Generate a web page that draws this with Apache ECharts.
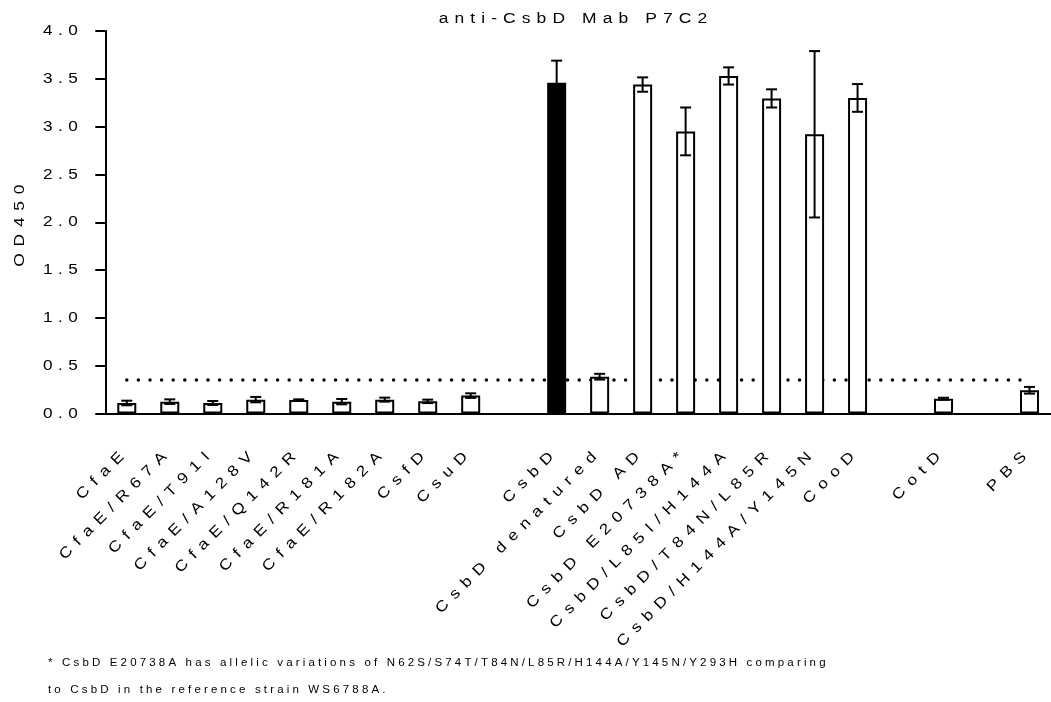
<!DOCTYPE html>
<html>
<head>
<meta charset="utf-8">
<script src="https://cdn.jsdelivr.net/npm/echarts@6/dist/echarts.min.js"></script>
<style>
html,body{margin:0;padding:0;background:#fff;}
#chart{width:1051px;height:702px;}
</style>
</head>
<body>
<div id="chart"></div>
<script>
// ---- data ----
const chartTitle = 'anti-CsbD Mab P7C2';
const yAxisName = 'OD450';
const categories = ['CfaE','CfaE/R67A','CfaE/T91I','CfaE/A128V','CfaE/Q142R','CfaE/R181A','CfaE/R182A','CsfD','CsuD','',
  'CsbD','CsbD denatured','CsbD AD','CsbD E20738A*','CsbD/L85I/H144A','CsbD/T84N/L85R','CsbD/H144A/Y145N','CooD',' ',
  'CotD','  ','PBS'];
const means = [0.110,0.124,0.110,0.145,0.141,0.124,0.145,0.127,0.187,null,
  3.46,0.385,3.44,2.95,3.53,3.295,2.92,3.30,null,
  0.155,null,0.243];
const errors = [0.024,0.024,0.021,0.028,0.007,0.028,0.021,0.018,0.024,null,
  0.23,0.03,0.075,0.25,0.09,0.095,0.87,0.145,null,
  0.01,null,0.035];
const filledCategory = 'CsbD';
const cutoff = 0.35;
const yTicks = {min: 0, max: 4, interval: 0.5};
const footnoteLines = [
  '* CsbD E20738A has allelic variations of N62S/S74T/T84N/L85R/H144A/Y145N/Y293H comparing',
  'to CsbD in the reference strain WS6788A.'
];

// ---- wide, slightly stretched lettering like the original export (keyed by font size) ----
const STRETCH = 1.15;
const SPACING = {'15': 6.4, '15.2': 5.3, '14.9': 4.8, '15.1': 5.9, '10': 2.75};
function applySpacing(ctx){
  const m = /([\d.]+)px/.exec(ctx.font || '');
  const s = m ? SPACING[m[1]] : 0;
  try { ctx.letterSpacing = (s || 0) + 'px'; } catch(e) {}
}
(function(){
  const P = CanvasRenderingContext2D.prototype;
  const origFill = P.fillText, origStroke = P.strokeText, origMeasure = P.measureText;
  function wrapDraw(orig){
    return function(text, x, y, maxW){
      applySpacing(this);
      this.save();
      this.translate(x, y);
      this.scale(STRETCH, 1);
      if (maxW !== undefined) orig.call(this, text, 0, 0, maxW / STRETCH);
      else orig.call(this, text, 0, 0);
      this.restore();
    };
  }
  P.fillText = wrapDraw(origFill);
  P.strokeText = wrapDraw(origStroke);
  P.measureText = function(text){
    applySpacing(this);
    const m = origMeasure.call(this, text);
    return {
      width: m.width * STRETCH,
      actualBoundingBoxLeft: m.actualBoundingBoxLeft * STRETCH,
      actualBoundingBoxRight: m.actualBoundingBoxRight * STRETCH,
      actualBoundingBoxAscent: m.actualBoundingBoxAscent,
      actualBoundingBoxDescent: m.actualBoundingBoxDescent,
      fontBoundingBoxAscent: m.fontBoundingBoxAscent,
      fontBoundingBoxDescent: m.fontBoundingBoxDescent
    };
  };
})();

const FONT = 'Liberation Sans';
const barData = means.map(function(v, i){
  if (v == null) return null;
  if (categories[i] === filledCategory) {
    return {value: v, itemStyle: {color: '#000'}};
  }
  return v;
});
const errData = [];
means.forEach(function(v, i){
  if (v != null && errors[i] != null) errData.push([i, v - errors[i], v + errors[i]]);
});

const chart = echarts.init(document.getElementById('chart'), null, {renderer: 'canvas'});
chart.setOption({
  backgroundColor: '#fff',
  animation: false,
  grid: {left: 98.5, top: 31, width: 958, height: 382.5, containLabel: false},
  xAxis: {
    type: 'category',
    data: categories,
    axisLine: {lineStyle: {color: '#000', width: 2}},
    axisTick: {show: false},
    axisLabel: {rotate: 45, interval: 0, fontSize: 15, color: '#000', fontFamily: FONT, margin: 36}
  },
  yAxis: {
    type: 'value',
    min: yTicks.min, max: yTicks.max, interval: yTicks.interval,
    name: yAxisName,
    nameLocation: 'middle',
    nameRotate: 90,
    nameGap: 72,
    nameTextStyle: {fontSize: 15.1, color: '#000', fontFamily: FONT},
    axisLine: {show: true, lineStyle: {color: '#000', width: 2}},
    axisTick: {show: true, length: 10, lineStyle: {color: '#000', width: 2}},
    splitLine: {show: false},
    axisLabel: {fontSize: 14.9, color: '#000', fontFamily: FONT, margin: 22,
      formatter: function(v){ return v.toFixed(1); }}
  },
  graphic: [
    {type: 'text', x: 576, y: 19, z: 10,
      style: {text: chartTitle, fill: '#000', font: '15.2px "' + FONT + '"', textAlign: 'center', textVerticalAlign: 'middle'}},
    {type: 'text', x: 48, y: 663, z: 10,
      style: {text: footnoteLines[0], fill: '#000', font: '10px "' + FONT + '"', textAlign: 'left', textVerticalAlign: 'middle'}},
    {type: 'text', x: 48, y: 690, z: 10,
      style: {text: footnoteLines[1], fill: '#000', font: '10px "' + FONT + '"', textAlign: 'left', textVerticalAlign: 'middle'}}
  ],
  series: [
    {
      type: 'bar',
      data: barData,
      barWidth: 19,
      z: 2,
      itemStyle: {color: '#fff', borderColor: '#000', borderWidth: 2},
      markLine: {
        silent: true,
        symbol: 'none',
        z: 1,
        label: {show: false},
        lineStyle: {color: '#000', type: [0, 11.6], width: 3.5, cap: 'round'},
        data: [[{coord: [categories[0], cutoff]}, {coord: [categories[categories.length - 1], cutoff]}]]
      }
    },
    {
      type: 'custom',
      z: 3,
      data: errData,
      renderItem: function(params, api){
        const x = api.value(0);
        const lo = api.coord([x, api.value(1)]);
        const hi = api.coord([x, api.value(2)]);
        const hw = 5.5;
        const st = {stroke: '#000', lineWidth: 2};
        return {type: 'group', children: [
          {type: 'line', shape: {x1: hi[0], y1: hi[1], x2: lo[0], y2: lo[1]}, style: st},
          {type: 'line', shape: {x1: hi[0] - hw, y1: hi[1], x2: hi[0] + hw, y2: hi[1]}, style: st},
          {type: 'line', shape: {x1: lo[0] - hw, y1: lo[1], x2: lo[0] + hw, y2: lo[1]}, style: st}
        ]};
      }
    }
  ]
});
</script>
</body>
</html>
